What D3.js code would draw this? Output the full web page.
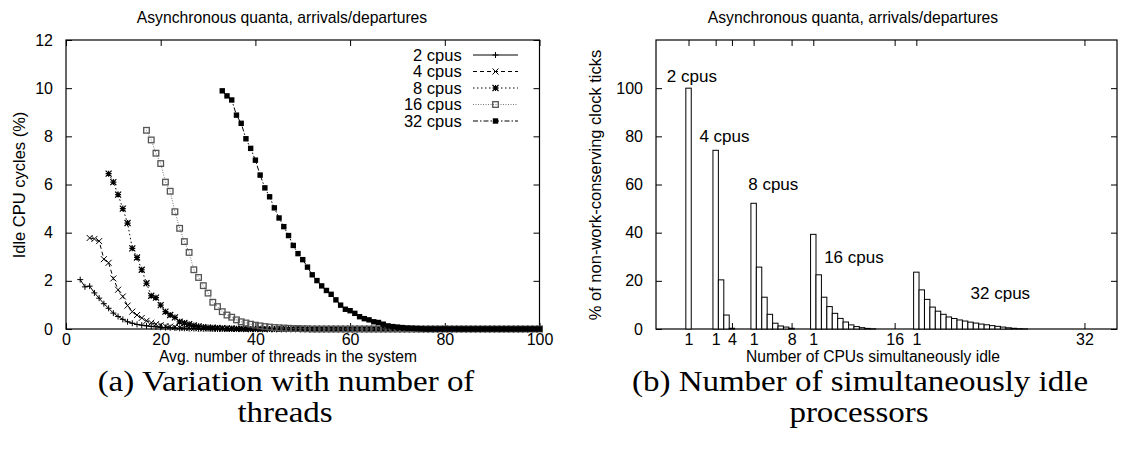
<!DOCTYPE html>
<html><head><meta charset="utf-8">
<script src="https://cdn.jsdelivr.net/npm/d3@7"></script>
<style>
html,body{margin:0;padding:0;background:#fff;}
svg{display:block;font-family:"Liberation Sans",Arial,Helvetica,sans-serif;}
</style></head><body>
<svg id="fig" width="1125" height="465"></svg>
<script>
// ---------- Panel (a): idle CPU cycles vs. average number of threads ----------
const seriesNames = ["2 cpus", "4 cpus", "8 cpus", "16 cpus", "32 cpus"];
const seriesStart = [3, 5, 9, 17, 33];          // thread count of first sample, one sample per thread
const idle2 = [2.05,1.75,1.78,1.50,1.28,1.05,0.86,0.66,0.52,0.40,
  0.30,0.24,0.19,0.16,0.13,0.11,0.09,0.07,0.06,0.05,
  0.04,0.03,0.03,0.02,0.02,0.01,0.01,0.01,
  0,0,0,0,0,0,0,0,0,0, 0,0,0,0,0,0,0,0,0,0, 0,0,0,0,0,0,0,0,0,0, 0,0,0,0,0,0,0,0,0,0,
  0,0,0,0,0,0,0,0,0,0, 0,0,0,0,0,0,0,0,0,0, 0,0,0,0,0,0,0,0,0,0];
const idle4 = [3.78,3.74,3.65,2.90,2.75,2.10,1.63,1.35,0.97,0.72,
  0.58,0.46,0.34,0.26,0.20,0.16,0.12,0.10,0.08,0.06,
  0.05,0.04,0.03,0.03,0.02,0.02,0.01,0.01,0.01,
  0,0,0,0,0,0,0,0,0,0, 0,0,0,0,0,0,0,0,0,0, 0,0,0,0,0,0,0,0,0,0, 0,0,0,0,0,0,0,0,0,0,
  0,0,0,0,0,0,0,0,0,0, 0,0,0,0,0,0,0,0,0,0, 0,0,0,0,0,0,0];
const idle8 = [6.45,6.10,5.58,5.00,4.40,3.35,2.97,2.46,1.90,1.38,
  1.30,0.99,0.72,0.58,0.48,0.30,0.25,0.20,0.15,0.11,
  0.08,0.06,0.05,0.04,0.03,0.02,0.02,0.01,0.01,
  0,0,0,0,0,0,0,0,0,0, 0,0,0,0,0,0,0,0,0,0, 0,0,0,0,0,0,0,0,0,0, 0,0,0,0,0,0,0,0,0,0,
  0,0,0,0,0,0,0,0,0,0, 0,0,0,0,0,0,0,0,0,0, 0,0,0];
const idle16 = [8.25,7.85,7.30,6.87,6.10,5.72,4.87,4.18,3.63,3.18,
  2.46,2.14,1.80,1.49,1.11,0.93,0.72,0.58,0.49,0.38,
  0.30,0.25,0.20,0.16,0.13,0.10,0.08,0.06,0.05,0.04,
  0.03,0.02,0.02,0.01,0.01,
  0,0,0,0,0,0,0,0,0,0, 0,0,0,0,0,0,0,0,0,0, 0,0,0,0,0,0,0,0,0,0, 0,0,0,0,0,0,0,0,0,0,
  0,0,0,0,0,0,0,0,0];
const idle32 = [9.89,9.68,9.51,8.88,8.54,7.90,7.50,7.01,6.39,5.86,
  5.49,5.03,4.61,4.25,3.88,3.47,3.13,2.88,2.57,2.25,
  2.01,1.79,1.60,1.44,1.21,0.99,0.82,0.76,0.65,0.51,
  0.43,0.38,0.30,0.27,0.20,0.13,0.10,0.08,0.06,0.04,
  0.03,0.02,0.01,
  0,0,0,0,0,0,0,0,0,0, 0,0,0,0,0,0,0,0,0,0, 0,0,0,0,0];
const idleSeries = [idle2, idle4, idle8, idle16, idle32];
const threadTicks = [0, 20, 40, 60, 80, 100];
const idleTicks = [0, 2, 4, 6, 8, 10, 12];

// ---------- Panel (b): share of non-work-conserving ticks by number of idle CPUs ----------
const groupNames = ["2 cpus", "4 cpus", "8 cpus", "16 cpus", "32 cpus"];
const groupOffset = [0, 5, 12, 23, 42];          // bar k of a group sits at offset + k
const share2 = [100, 0];
const share4 = [74.2, 20.4, 5.8, 0.3];
const share8 = [52.2, 25.7, 13.2, 6.1, 2.4, 1.25, 0.8, 0.3];
const share16 = [39.3, 22.5, 13.2, 9.3, 6.5, 4.4, 2.9, 1.7, 1.0, 0.55, 0.25, 0.1, 0, 0, 0, 0];
const share32 = [23.6, 16.25, 12.3, 9.1, 7.4, 6.1, 5.0, 4.35, 3.75, 3.3,
  2.85, 2.45, 2.05, 1.75, 1.4, 1.1, 0.8, 0.5, 0.3, 0.15,
  0.05, 0, 0, 0, 0, 0, 0, 0, 0, 0, 0, 0];
const shareSeries = [share2, share4, share8, share16, share32];
const groupLabelPos = [-3, 3, 12, 26, 53];
const groupLabelVal = [105, 80, 60, 30, 15];
const idleCpuTickPos = [1, 6, 9, 13, 20, 24, 39, 43, 74];
const idleCpuTickText = ["1", "1", "4", "1", "8", "1", "16", "1", "32"];
const shareTicks = [0, 20, 40, 60, 80, 100];

// ---------- drawing ----------
const svg = d3.select("#fig");
svg.append("rect").attr("width", 1125).attr("height", 465).attr("fill", "#fff");

const TICK = 6;

function frame(g, x, y, xTickVals, xFmt, yTickVals) {
  const [x0, x1] = x.range(), [y0, y1] = y.range();
  const bottom = g.append("g").attr("transform", `translate(0,${y0})`)
    .call(d3.axisBottom(x).tickValues(xTickVals).tickFormat(xFmt).tickSizeInner(-TICK).tickSizeOuter(0).tickPadding(5));
  const top = g.append("g").attr("transform", `translate(0,${y1})`)
    .call(d3.axisTop(x).tickValues(xTickVals).tickFormat("").tickSizeInner(-TICK).tickSizeOuter(0));
  const left = g.append("g").attr("transform", `translate(${x0},0)`)
    .call(d3.axisLeft(y).tickValues(yTickVals).tickFormat(d3.format("d")).tickSizeInner(-TICK).tickSizeOuter(0).tickPadding(13));
  const right = g.append("g").attr("transform", `translate(${x1},0)`)
    .call(d3.axisRight(y).tickValues(yTickVals).tickFormat("").tickSizeInner(-TICK).tickSizeOuter(0));
  [bottom, top, left, right].forEach(a => {
    a.select(".domain").remove();
    a.selectAll("line").attr("stroke", "#000").attr("stroke-width", 1);
    a.selectAll("text").attr("font-size", 16).attr("fill", "#000")
      .attr("font-family", '"Liberation Sans",Arial,Helvetica,sans-serif');
  });
  g.append("rect").attr("x", x0).attr("y", y1).attr("width", x1 - x0).attr("height", y0 - y1)
    .attr("fill", "none").attr("stroke", "#000").attr("stroke-width", 1.2);
}

function text(g, x, y, s, size, anchor, rotate, sx) {
  return g.append("text")
    .attr("transform", `translate(${x},${y})` + (rotate ? ` rotate(${rotate})` : "") + (sx ? ` scale(${sx},1)` : ""))
    .attr("text-anchor", anchor || "middle").attr("dy", "0.35em")
    .attr("font-size", size).attr("fill", "#000").text(s);
}

// point glyphs: plus, cross, star, open box, filled box
const glyphs = ["plus", "cross", "star", "box", "fbox"];
const lineDash = [null, "4,3", "1.5,2.5", "1,1.5", "5,2,1.5,2"];
const lineColor = ["#000", "#000", "#000", "#777", "#000"];
function glyph(g, type, cx, cy) {
  const r = 3;
  if (type === "plus") {
    g.append("path").attr("d", `M${cx - r},${cy}H${cx + r}M${cx},${cy - r}V${cy + r}`)
      .attr("stroke", "#000").attr("stroke-width", 1).attr("fill", "none");
  } else if (type === "cross") {
    g.append("path").attr("d", `M${cx - r},${cy - r}L${cx + r},${cy + r}M${cx - r},${cy + r}L${cx + r},${cy - r}`)
      .attr("stroke", "#000").attr("stroke-width", 1).attr("fill", "none");
  } else if (type === "star") {
    g.append("path").attr("d", `M${cx - r},${cy}H${cx + r}M${cx},${cy - r}V${cy + r}M${cx - r},${cy - r}L${cx + r},${cy + r}M${cx - r},${cy + r}L${cx + r},${cy - r}`)
      .attr("stroke", "#000").attr("stroke-width", 1.2).attr("fill", "none");
  } else if (type === "box") {
    g.append("rect").attr("x", cx - 2.8).attr("y", cy - 2.8).attr("width", 5.6).attr("height", 5.6)
      .attr("fill", "none").attr("stroke", "#555").attr("stroke-width", 1.3);
  } else {
    g.append("rect").attr("x", cx - 2.7).attr("y", cy - 2.7).attr("width", 5.4).attr("height", 5.4)
      .attr("fill", "#000");
  }
}

// ---- panel (a)
{
  const g = svg.append("g");
  const x = d3.scaleLinear().domain([0, 100]).range([66, 539.5]);
  const y = d3.scaleLinear().domain([0, 12]).range([329, 40]);
  frame(g, x, y, threadTicks, d3.format("d"), idleTicks);

  idleSeries.forEach((vals, s) => {
    const pts = vals.map((v, i) => [seriesStart[s] + i, v]);
    g.append("path").datum(pts)
      .attr("d", d3.line().x(d => x(d[0])).y(d => y(d[1])))
      .attr("fill", "none").attr("stroke", lineColor[s]).attr("stroke-width", 1)
      .attr("stroke-dasharray", lineDash[s]);
    const pg = g.append("g");
    pts.forEach(d => glyph(pg, glyphs[s], x(d[0]), y(d[1])));
  });

  // key
  const key = g.append("g");
  seriesNames.forEach((name, s) => {
    const ky = 55 + s * 16.5;
    text(key, 461.7, ky, name, 16.5, "end");
    key.append("line").attr("x1", 473).attr("x2", 518).attr("y1", ky).attr("y2", ky)
      .attr("stroke", lineColor[s]).attr("stroke-width", 1).attr("stroke-dasharray", lineDash[s]);
    glyph(key, glyphs[s], 495.5, ky);
  });

  text(g, 282, 17, "Asynchronous quanta, arrivals/departures", 15.7);
  text(g, 288, 357, "Avg. number of threads in the system", 15.6);
  text(g, 19, 185, "Idle CPU cycles (%)", 16.5, "middle", -90);
}

// ---- panel (b)
{
  const g = svg.append("g");
  const x = d3.scaleLinear().domain([-5, 80]).range([656, 1117]);
  const y = d3.scaleLinear().domain([0, 120]).range([329, 40]);
  frame(g, x, y, idleCpuTickPos, (d, i) => idleCpuTickText[i], shareTicks);

  const w = x(1) - x(0);
  shareSeries.forEach((vals, s) => {
    g.append("g").selectAll("rect").data(vals).join("rect")
      .attr("x", (v, i) => x(groupOffset[s] + i + 1) - w / 2)
      .attr("y", v => y(v))
      .attr("width", w)
      .attr("height", v => y(0) - y(v))
      .attr("fill", "#fff").attr("stroke", "#000").attr("stroke-width", 1);
  });
  groupNames.forEach((name, s) => {
    text(g, x(groupLabelPos[s]), y(groupLabelVal[s]), name, 17, "start");
  });

  text(g, 853, 17, "Asynchronous quanta, arrivals/departures", 15.7);
  text(g, 873, 357, "Number of CPUs simultaneously idle", 15.6);
  text(g, 595, 185, "% of non-work-conserving clock ticks", 16.5, "middle", -90);
}

// ---- captions
{
  const cap = svg.append("g").attr("font-family", '"Liberation Serif","Times New Roman",serif');
  const lines = [
    [286, 380, "(a) Variation with number of"], [285, 411, "threads"],
    [860, 380, "(b) Number of simultaneously idle"], [859, 411, "processors"]
  ];
  lines.forEach(([cx, cy, s]) => text(cap, cx, cy, s, 30, "middle", 0, 1.1));
}
</script>
</body></html>
